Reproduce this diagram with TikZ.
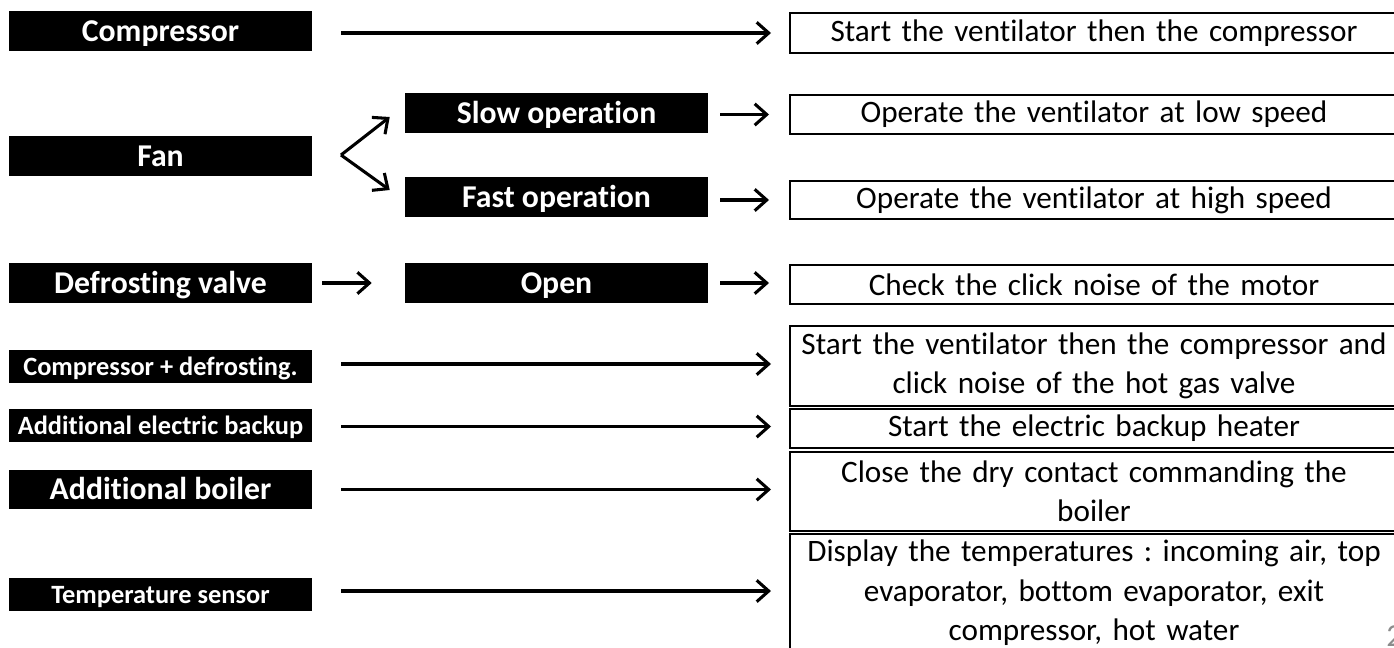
\documentclass[tikz,border=0pt]{standalone}
\usepackage{fontspec}
\setmainfont{Carlito}[Ligatures=NoCommon]
\usetikzlibrary{arrows.meta}
\frenchspacing
\begin{document}
\begin{tikzpicture}[x=0.75pt,y=-0.75pt,
  lbl/.style={fill=black,text=white,inner sep=0pt,minimum width=227.25pt},
  big/.style={lbl,font=\bfseries\fontsize{23.8}{28}\selectfont,minimum height=30pt,
    text height=15.6pt,text depth=0.5pt},
  small/.style={lbl,font=\bfseries\fontsize{19.8}{24}\selectfont,minimum height=24.75pt,
    text height=13pt,text depth=0pt},
  res/.style={draw=black,line width=1.5pt,anchor=west,inner xsep=0pt,inner ysep=0pt,
    text width=456pt,align=center,font=\fontsize{23.4}{29.6}\selectfont},
  arr/.style={line width=2.3pt,-{Straight Barb[length=9pt,width=16pt,line width=2.3pt]}},
]
\useasboundingbox (0,0) rectangle (1394,647);
% left column
\node[big] (comp) at (160.5,31) {Compressor};
\node[big] (fan) at (160.5,156) {Fan};
\node[big] (defv) at (160.5,283) {Defrosting valve};
\node[small] (compdef) at (160.5,366.5) {Compressor + defrosting.};
\node[small] (elec) at (160.5,425.5) {Additional electric backup};
\node[big,minimum height=29.25pt] (boil) at (160.5,489.5) {Additional boiler};
\node[small] (temp) at (160.5,594.5) {Temperature sensor};
% middle column
\node[big] (slow) at (556.5,113) {Slow operation};
\node[big] (fast) at (556.5,197) {Fast operation};
\node[big] (open) at (556.5,283) {Open};
% right column
\node[res,minimum height=30pt] (r1) at (789,33) {Start the ventilator then the compressor};
\node[res,minimum height=29.25pt] (r2) at (789,114.5) {Operate the ventilator at low speed};
\node[res,minimum height=28.5pt] (r3) at (789,200) {Operate the ventilator at high speed};
\node[res,minimum height=29.25pt] (r4) at (789,284.5) {Check the click noise of the motor};
\node[res,minimum height=60pt] (r5) at (789,366) {Start the ventilator then the compressor and\\click noise of the hot gas valve};
\node[res,minimum height=29.25pt] (r6) at (789,428.5) {Start the electric backup heater};
\node[res,minimum height=59.25pt] (r7) at (789,491.5) {Close the dry contact commanding the\\boiler};
\node[res,minimum height=88.5pt] (r8) at (789,593) {Display the temperatures : incoming air, top\\evaporator, bottom evaporator, exit\\compressor, hot water};
% page number (cut by the edge, as in the reference)
\node[anchor=west,inner sep=0pt,text=black!45,font=\fontsize{24}{29}\selectfont] (pg) at (1386,636) {2};
% connectors
\draw[arr,shorten <=21.75pt,shorten >=13.5pt] (r1.west -| comp.east) -- (r1.west);
\coordinate (apex) at (341,155);
\draw[arr] (apex) -- ([shift={(-15,4)}]slow.west);
\draw[arr] (apex) -- ([shift={(-15,-7)}]fast.west);
\draw[arr,shorten <=9pt,shorten >=15pt] (r2.west -| slow.east) -- (r2.west);
\draw[arr,shorten <=9pt,shorten >=15pt] (r3.west -| fast.east) -- (r3.west);
\draw[arr,shorten <=7.5pt,shorten >=24.75pt] (defv.east) -- (open.west);
\draw[arr,shorten <=9pt,shorten >=15pt] (open.east) -- (open.east -| r4.west);
\draw[arr,shorten <=21.75pt,shorten >=13.5pt] ([yshift=1.5pt]r5.west -| compdef.east) -- ([yshift=1.5pt]r5.west);
\draw[arr,shorten <=21.75pt,shorten >=13.5pt] ([yshift=1.5pt]r6.west -| elec.east) -- ([yshift=1.5pt]r6.west);
\draw[arr,shorten <=21.75pt,shorten >=13.5pt] ([yshift=1.5pt]r7.west -| boil.east) -- ([yshift=1.5pt]r7.west);
\draw[arr,shorten <=21.75pt,shorten >=13.5pt] ([yshift=1.5pt]r8.west -| temp.east) -- ([yshift=1.5pt]r8.west);
\end{tikzpicture}
\end{document}
